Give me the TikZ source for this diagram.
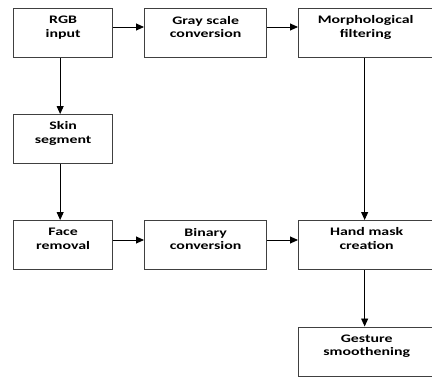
\documentclass[tikz,border=0pt]{standalone}
\usepackage{fontspec}
\setmainfont{Carlito}
\newfontfamily\widesans[FakeStretch=1.38]{Carlito}
\usetikzlibrary{arrows.meta,calc}
\begin{document}
\begin{tikzpicture}[x=1pt,y=-1pt,
  stagebox/.style={draw=black!75,line width=1.3pt,minimum width=#1,minimum height=49pt,inner sep=0pt,anchor=north west},
  stagebox/.default=99pt,
  caption/.style={anchor=north,align=center,font=\widesans\bfseries\fontsize{11.5}{13.4}\selectfont,inner sep=0pt},
  flow/.style={line width=0.9pt,-{Triangle[length=8pt,width=7pt]}}]
\useasboundingbox (0,0) rectangle (432,376);
% boxes, positioned by their top-left corners
\node[stagebox] (rgb) at (13,8) {};
\node[stagebox=122pt] (gray) at (144,8) {};
\node[stagebox=136pt] (morph) at (298,8) {};
\node[stagebox] (skin) at (13,114) {};
\node[stagebox] (face) at (13,220) {};
\node[stagebox=122pt] (bin) at (144,220) {};
\node[stagebox=136pt] (hand) at (298,220) {};
\node[stagebox=136pt] (gest) at (298,326.5) {};
% captions
\node[caption] at ($(rgb.north)+(0,8)$) {RGB\\input};
\node[caption] at ($(gray.north)+(0,8)$) {Gray scale\\conversion};
\node[caption] at ($(morph.north)+(-1,7.5)$) {Morphological\\filtering};
\node[caption] at ($(skin.north)+(0,7.5)$) {Skin\\segment};
\node[caption] at ($(face.north)+(0,8)$) {Face\\removal};
\node[caption] at ($(bin.north)+(0,8)$) {Binary\\conversion};
\node[caption] at ($(hand.north)+(0,7.5)$) {Hand mask\\creation};
\node[caption] at ($(gest.north)+(0,8)$) {Gesture\\smoothening};
% connectors
\draw[flow] ($(rgb.north east)+(0,19)$) -- ($(gray.north west)+(0,19)$);
\draw[flow] ($(gray.north east)+(0,19)$) -- ($(morph.north west)+(0,19)$);
\draw[flow] ($(rgb.south)+(-3,0)$) -- ($(skin.north)+(-3,0)$);
\draw[flow] ($(skin.south)+(-3,0)$) -- ($(face.north)+(-3,0)$);
\draw[flow] ($(face.north east)+(0,20)$) -- ($(bin.north west)+(0,20)$);
\draw[flow] ($(bin.north east)+(0,20)$) -- ($(hand.north west)+(0,20)$);
\draw[flow] ($(morph.south)+(-2,0)$) -- ($(hand.north)+(-2,0)$);
\draw[flow] ($(hand.south)+(-2,0)$) -- ($(gest.north)+(-2,0)$);
\end{tikzpicture}
\end{document}
